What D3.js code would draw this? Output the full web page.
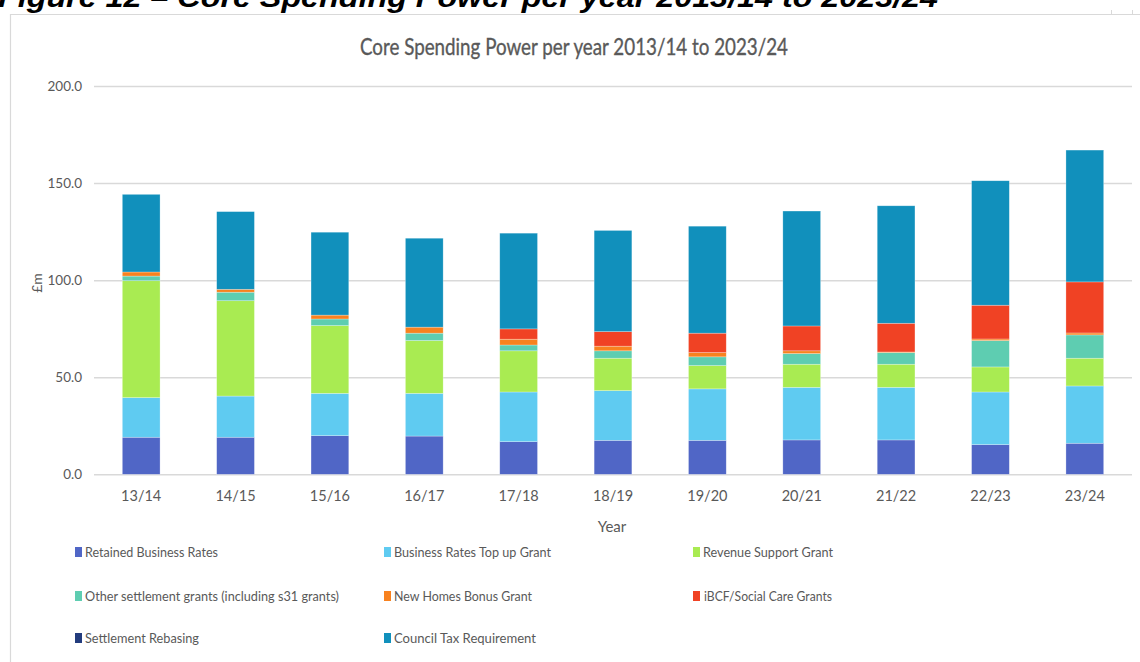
<!DOCTYPE html>
<html>
<head>
<meta charset="utf-8">
<script src="https://cdn.jsdelivr.net/npm/d3@7/dist/d3.min.js"></script>
<style>
html,body{margin:0;padding:0;background:#fff;}
svg{display:block;}
</style>
</head>
<body>
<svg id="chart" width="1140" height="662"></svg>
<script>
const years = ["13/14","14/15","15/16","16/17","17/18","18/19","19/20","20/21","21/22","22/23","23/24"];
const retainedBusinessRates = [19.1,19.1,19.9,19.7,16.8,17.5,17.5,17.7,17.7,15.3,16.0];
const businessRatesTopUp    = [20.4,21.2,21.8,22.0,25.6,25.6,26.5,27.1,27.1,27.1,29.5];
const revenueSupportGrant   = [60.2,49.1,34.9,27.2,21.2,16.7,12.0,11.9,11.9,12.9,14.3];
const otherSettlementGrants = [2.4,4.4,3.4,3.8,3.0,3.8,4.5,5.5,6.0,13.6,12.0];
const newHomesBonus         = [2.1,1.5,2.0,3.1,3.0,2.4,2.2,1.4,0.3,0.8,1.0];
const ibcfSocialCare        = [0,0,0,0,5.3,7.5,10.0,12.8,14.8,17.4,26.3];
const settlementRebasing    = [0,0,0,0,0,0,0,0,0,0,0];
const councilTax            = [40.0,40.0,42.7,45.8,49.3,52.1,55.1,59.2,60.5,64.1,67.9];
const yTicks = [0,50,100,150,200];

const seriesNames = ["Retained Business Rates","Business Rates Top up Grant","Revenue Support Grant",
  "Other settlement grants (including s31 grants)","New Homes Bonus Grant","iBCF/Social Care Grants",
  "Settlement Rebasing","Council Tax  Requirement"];
const seriesValues = [retainedBusinessRates,businessRatesTopUp,revenueSupportGrant,otherSettlementGrants,
  newHomesBonus,ibcfSocialCare,settlementRebasing,councilTax];
const colors = ["#5066C6","#5FCBF1","#A9EB52","#5ECDB1","#F8821F","#F04224","#233C7D","#1190BC"];

const svg = d3.select("#chart");
const fontUI = "Lato, 'Open Sans', 'Liberation Sans', sans-serif";
const grey = "#595959";

// page heading (cut off at the top, as in the source)
svg.append("text").attr("x",-2).attr("y",7)
  .attr("font-family","'Liberation Sans', Arial, sans-serif").attr("font-weight","bold").attr("font-style","italic")
  .attr("font-size",27).attr("fill","#000")
  .attr("textLength",940).attr("lengthAdjust","spacingAndGlyphs")
  .text("Figure 12 \u2013 Core Spending Power per year 2013/14 to 2023/24");

// frame
svg.append("line").attr("x1",10).attr("x2",1140).attr("y1",14.5).attr("y2",14.5).attr("stroke","#D9D9D9").attr("stroke-width",1.2);
svg.append("line").attr("x1",10.5).attr("x2",10.5).attr("y1",14).attr("y2",662).attr("stroke","#D9D9D9").attr("stroke-width",1.2);
[1111.5,1132.5].forEach(x=>svg.append("line").attr("x1",x).attr("x2",x).attr("y1",10).attr("y2",14).attr("stroke","#D9D9D9"));

// chart title
svg.append("text").attr("x",574).attr("y",55).attr("text-anchor","middle")
  .attr("font-family",fontUI).attr("font-size",23).attr("fill",grey)
  .attr("stroke",grey).attr("stroke-width",0.35)
  .attr("textLength",428).attr("lengthAdjust","spacingAndGlyphs")
  .text("Core Spending Power per year 2013/14 to 2023/24");

const x = d3.scaleBand().domain(years).range([94,1132]).paddingInner(0.6).paddingOuter(0.3);
const y = d3.scaleLinear().domain([0,200]).range([474.3,86]);

// gridlines
const yAxis = d3.axisLeft(y).tickValues(yTicks).tickFormat(d3.format(".1f")).tickSize(-(1132-94)).tickPadding(12);
const gy = svg.append("g").attr("transform","translate(94,0)").call(yAxis);
gy.select(".domain").remove();
gy.selectAll(".tick line").attr("stroke","#D9D9D9").attr("stroke-width",1.5);
gy.selectAll(".tick text").attr("font-family",fontUI).attr("font-size",13.5).attr("fill",grey);

// stacked data
const table = years.map((yr,i)=>{
  const o = {year:yr};
  seriesNames.forEach((n,k)=>o[n]=seriesValues[k][i]);
  return o;
});
const stack = d3.stack().keys(seriesNames)(table);

svg.append("g").selectAll("g").data(stack).join("g")
  .attr("fill",(d,i)=>colors[i])
  .selectAll("rect").data(d=>d).join("rect")
  .attr("x",d=>x(d.data.year))
  .attr("width",x.bandwidth())
  .attr("y",d=>y(d[1]))
  .attr("height",d=>Math.max(0,y(d[0])-y(d[1])))
  .attr("stroke","#ffffff").attr("stroke-opacity",0.45).attr("stroke-width",0.6);

// x axis
const xAxis = d3.axisBottom(x).tickSize(0).tickPadding(16);
const gx = svg.append("g").attr("transform","translate(0,474.3)").call(xAxis);
gx.select(".domain").remove();
gx.selectAll(".tick text").attr("font-family",fontUI).attr("font-size",14.5).attr("fill",grey);

// axis titles
svg.append("text").attr("x",612).attr("y",532).attr("text-anchor","middle")
  .attr("font-family",fontUI).attr("font-size",15).attr("fill",grey).text("Year");
svg.append("text").attr("transform","translate(42,283) rotate(-90)").attr("text-anchor","middle")
  .attr("font-family",fontUI).attr("font-size",14).attr("fill",grey).text("\u00a3m");

// legend
const legendLengths = [133,157,130,254,138,128,114,142];
const colX = [75,384,693];
const rowY = [547,591,633];
const lg = svg.append("g").selectAll("g").data(seriesNames).join("g")
  .attr("transform",(d,i)=>`translate(${colX[i%3]},${rowY[Math.floor(i/3)]})`);
lg.append("rect").attr("width",7).attr("height",10).attr("fill",(d,i)=>colors[i]);
lg.append("text").attr("x",(d,i)=> i===5 ? 11 : 10).attr("y",9.5)
  .attr("font-family",fontUI).attr("font-size",14).attr("fill",grey)
  .attr("textLength",(d,i)=>legendLengths[i]).attr("lengthAdjust","spacingAndGlyphs")
  .text(d=>d);
</script>
</body>
</html>
